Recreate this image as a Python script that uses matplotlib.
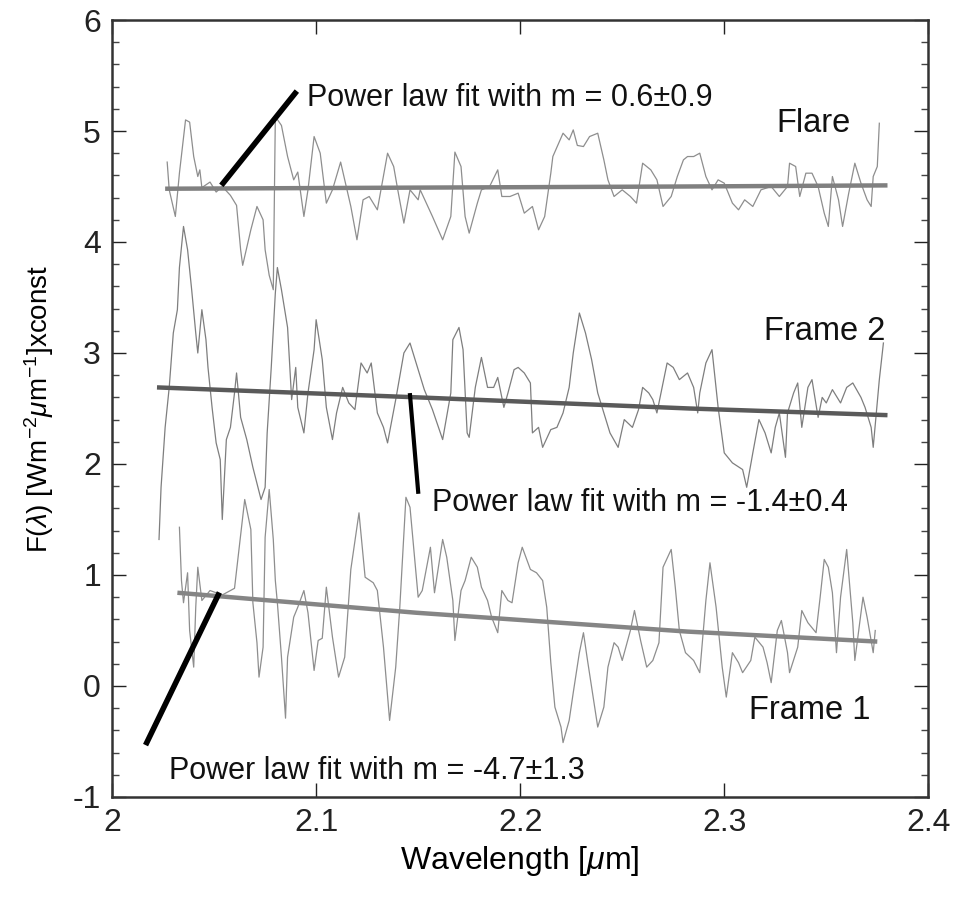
import numpy as np
import matplotlib
matplotlib.use("Agg")
import matplotlib.pyplot as plt
from matplotlib.ticker import MultipleLocator

plt.rcParams['font.family'] = ['Liberation Sans', 'DejaVu Sans']
plt.rcParams['mathtext.fontset'] = 'custom'
plt.rcParams['mathtext.rm'] = 'Liberation Sans'
plt.rcParams['mathtext.it'] = 'Liberation Sans:italic'
plt.rcParams['axes.unicode_minus'] = False

# spectra (wavelength in um, flux offset per frame)
flare_wl = [2.027, 2.028, 2.031, 2.033, 2.036, 2.038, 2.040, 2.042, 2.043, 2.044,
            2.048, 2.051, 2.054, 2.058, 2.061, 2.063, 2.064, 2.068, 2.071, 2.074,
            2.075, 2.077, 2.079, 2.080, 2.083, 2.086, 2.089, 2.091, 2.094, 2.096,
            2.099, 2.102, 2.105, 2.108, 2.112, 2.114, 2.117, 2.120, 2.123, 2.126,
            2.130, 2.135, 2.138, 2.140, 2.143, 2.146, 2.150, 2.151, 2.154, 2.157,
            2.162, 2.166, 2.168, 2.171, 2.173, 2.175, 2.179, 2.181, 2.185, 2.189,
            2.191, 2.195, 2.199, 2.202, 2.206, 2.209, 2.212, 2.215, 2.216, 2.221,
            2.224, 2.226, 2.228, 2.231, 2.234, 2.238, 2.241, 2.243, 2.246, 2.250,
            2.254, 2.257, 2.260, 2.264, 2.267, 2.270, 2.274, 2.277, 2.280, 2.282,
            2.285, 2.288, 2.291, 2.294, 2.297, 2.300, 2.304, 2.307, 2.310, 2.314,
            2.318, 2.323, 2.327, 2.331, 2.332, 2.335, 2.337, 2.340, 2.343, 2.346,
            2.349, 2.351, 2.353, 2.356, 2.358, 2.361, 2.364, 2.367, 2.370, 2.372,
            2.373, 2.375, 2.376]
flare_flux = [4.72, 4.47, 4.23, 4.62, 5.10, 5.08, 4.77, 4.59, 4.65, 4.49,
              4.54, 4.45, 4.50, 4.42, 4.33, 3.93, 3.79, 4.11, 4.32, 4.20,
              3.93, 3.70, 3.57, 5.13, 5.05, 4.77, 4.56, 4.63, 4.23, 4.47,
              4.95, 4.80, 4.35, 4.47, 4.72, 4.56, 4.32, 4.02, 4.38, 4.41,
              4.29, 4.80, 4.68, 4.47, 4.17, 4.47, 4.38, 4.47, 4.35, 4.23,
              4.02, 4.23, 4.81, 4.68, 4.23, 4.08, 4.35, 4.47, 4.50, 4.65,
              4.41, 4.41, 4.44, 4.26, 4.32, 4.11, 4.23, 4.62, 4.77, 4.98,
              4.92, 5.01, 4.87, 4.86, 4.95, 4.98, 4.74, 4.56, 4.41, 4.47,
              4.41, 4.35, 4.71, 4.65, 4.56, 4.32, 4.41, 4.59, 4.74, 4.77,
              4.77, 4.80, 4.59, 4.47, 4.56, 4.53, 4.35, 4.29, 4.38, 4.32,
              4.47, 4.50, 4.41, 4.50, 4.71, 4.68, 4.41, 4.62, 4.62, 4.50,
              4.26, 4.14, 4.59, 4.38, 4.14, 4.44, 4.71, 4.53, 4.38, 4.32,
              4.59, 4.68, 5.07]

frame2_wl = [2.023, 2.024, 2.026, 2.028, 2.030, 2.032, 2.033, 2.035, 2.037, 2.039,
             2.041, 2.042, 2.044, 2.046, 2.047, 2.049, 2.051, 2.053, 2.054, 2.056,
             2.058, 2.060, 2.061, 2.063, 2.066, 2.069, 2.073, 2.075, 2.076, 2.078,
             2.080, 2.081, 2.083, 2.086, 2.088, 2.090, 2.091, 2.094, 2.096, 2.099,
             2.100, 2.103, 2.105, 2.108, 2.110, 2.113, 2.116, 2.119, 2.122, 2.125,
             2.127, 2.130, 2.133, 2.135, 2.139, 2.143, 2.146, 2.150, 2.153, 2.157,
             2.162, 2.166, 2.167, 2.170, 2.172, 2.174, 2.175, 2.178, 2.181, 2.184,
             2.187, 2.189, 2.192, 2.194, 2.197, 2.199, 2.202, 2.205, 2.206, 2.209,
             2.211, 2.215, 2.218, 2.221, 2.224, 2.226, 2.229, 2.232, 2.235, 2.238,
             2.241, 2.244, 2.248, 2.251, 2.255, 2.258, 2.260, 2.263, 2.265, 2.267,
             2.269, 2.272, 2.275, 2.278, 2.282, 2.285, 2.287, 2.288, 2.291, 2.294,
             2.297, 2.300, 2.304, 2.309, 2.311, 2.314, 2.317, 2.320, 2.323, 2.325,
             2.327, 2.330, 2.331, 2.334, 2.336, 2.338, 2.341, 2.343, 2.346, 2.348,
             2.350, 2.353, 2.357, 2.360, 2.363, 2.367, 2.369, 2.372, 2.373, 2.375,
             2.376, 2.378]
frame2_flux = [1.32, 1.79, 2.33, 2.69, 3.18, 3.39, 3.77, 4.14, 3.93, 3.57,
               3.18, 3.00, 3.39, 3.12, 2.87, 2.51, 2.19, 2.04, 1.50, 2.22,
               2.33, 2.64, 2.82, 2.42, 2.22, 1.97, 1.68, 1.79, 2.28, 2.87,
               3.54, 3.77, 3.57, 3.23, 2.58, 2.87, 2.51, 2.28, 2.64, 3.03,
               3.30, 2.94, 2.51, 2.22, 2.46, 2.69, 2.55, 2.49, 2.91, 2.82,
               2.91, 2.46, 2.33, 2.19, 2.58, 3.00, 3.09, 2.85, 2.67, 2.49,
               2.22, 2.64, 3.12, 3.23, 3.03, 2.28, 2.24, 2.69, 2.96, 2.69,
               2.69, 2.78, 2.51, 2.64, 2.85, 2.87, 2.82, 2.73, 2.28, 2.33,
               2.15, 2.31, 2.33, 2.46, 2.69, 3.00, 3.36, 3.18, 2.94, 2.64,
               2.46, 2.28, 2.15, 2.40, 2.33, 2.49, 2.69, 2.64, 2.58, 2.46,
               2.64, 2.91, 2.87, 2.76, 2.82, 2.69, 2.46, 2.64, 2.91, 3.03,
               2.51, 2.10, 2.01, 1.95, 1.79, 2.10, 2.40, 2.28, 2.10, 2.33,
               2.46, 2.06, 2.46, 2.64, 2.73, 2.33, 2.69, 2.76, 2.42, 2.60,
               2.55, 2.67, 2.55, 2.69, 2.73, 2.60, 2.51, 2.33, 2.15, 2.55,
               2.76, 3.09]

frame1_wl = [2.033, 2.034, 2.035, 2.037, 2.038, 2.040, 2.041, 2.042, 2.044, 2.048,
             2.054, 2.060, 2.065, 2.068, 2.069, 2.071, 2.072, 2.074, 2.075, 2.077,
             2.079, 2.080, 2.081, 2.083, 2.085, 2.086, 2.089, 2.091, 2.094, 2.096,
             2.099, 2.101, 2.103, 2.105, 2.108, 2.111, 2.114, 2.117, 2.121, 2.124,
             2.128, 2.130, 2.133, 2.136, 2.139, 2.141, 2.144, 2.146, 2.150, 2.152,
             2.156, 2.158, 2.162, 2.164, 2.167, 2.168, 2.171, 2.173, 2.176, 2.179,
             2.181, 2.184, 2.186, 2.189, 2.191, 2.194, 2.196, 2.199, 2.201, 2.205,
             2.208, 2.211, 2.213, 2.215, 2.217, 2.220, 2.221, 2.224, 2.226, 2.229,
             2.231, 2.233, 2.236, 2.238, 2.241, 2.243, 2.246, 2.248, 2.250, 2.254,
             2.256, 2.259, 2.262, 2.265, 2.268, 2.270, 2.274, 2.276, 2.278, 2.281,
             2.285, 2.288, 2.291, 2.293, 2.296, 2.299, 2.301, 2.304, 2.307, 2.309,
             2.313, 2.315, 2.319, 2.321, 2.323, 2.326, 2.328, 2.331, 2.332, 2.336,
             2.338, 2.341, 2.345, 2.347, 2.349, 2.351, 2.353, 2.355, 2.357, 2.360,
             2.363, 2.364, 2.368, 2.370, 2.373, 2.374]
frame1_flux = [1.43, 0.95, 0.75, 1.02, 0.50, 0.17, 0.71, 1.07, 0.77, 0.86,
               0.82, 0.88, 1.68, 1.41, 0.75, 0.39, 0.08, 0.35, 1.34, 1.77,
               1.32, 0.95, 0.75, 0.26, -0.29, 0.26, 0.62, 0.71, 0.86, 0.66,
               0.14, 0.41, 0.43, 0.89, 0.44, 0.08, 0.26, 1.05, 1.56, 0.98,
               0.93, 0.86, 0.35, -0.31, 0.17, 0.71, 1.70, 1.61, 0.80, 0.86,
               1.25, 0.84, 1.32, 1.16, 0.77, 0.41, 0.86, 0.95, 1.16, 1.07,
               0.89, 0.77, 0.62, 0.48, 0.86, 0.77, 0.75, 1.11, 1.25, 1.05,
               1.02, 0.95, 0.71, 0.21, -0.19, -0.37, -0.51, -0.31, -0.06, 0.30,
               0.48, 0.23, -0.13, -0.37, -0.19, 0.17, 0.39, 0.35, 0.23, 0.50,
               0.68, 0.41, 0.17, 0.23, 0.39, 1.07, 1.23, 0.89, 0.50, 0.30,
               0.23, 0.12, 0.77, 1.11, 0.71, 0.17, -0.10, 0.30, 0.21, 0.12,
               0.23, 0.44, 0.35, 0.21, 0.03, 0.50, 0.59, 0.30, 0.12, 0.35,
               0.68, 0.57, 0.48, 0.80, 1.14, 1.07, 0.84, 0.30, 0.80, 1.23,
               0.57, 0.23, 0.80, 0.62, 0.30, 0.50]

# power law fits, read at a few wavelengths
flare_fit_wl = [2.026, 2.15, 2.28, 2.380]
flare_fit = [4.48, 4.49, 4.50, 4.51]
frame2_fit_wl = [2.022, 2.15, 2.283, 2.380]
frame2_fit = [2.69, 2.60, 2.50, 2.44]
frame1_fit_wl = [2.032, 2.149, 2.282, 2.375]
frame1_fit = [0.84, 0.66, 0.49, 0.40]

fit_labels = ['Power law fit with m = 0.6\u00b10.9',
              'Power law fit with m = -1.4\u00b10.4',
              'Power law fit with m = -4.7\u00b11.3']
series_names = ['Flare', 'Frame 2', 'Frame 1']

fig = plt.figure(figsize=(9.58, 8.97), dpi=100)
ax = fig.add_axes([0.117, 0.1115, 0.852, 0.8662])

spec_col = '#8e8e8e'
ax.plot(flare_wl, flare_flux, color=spec_col, lw=0.9)
ax.plot(frame2_wl, frame2_flux, color='#7e7e7e', lw=0.9)
ax.plot(frame1_wl, frame1_flux, color=spec_col, lw=0.9)

ax.plot(flare_fit_wl, flare_fit, color='#808080', lw=3.2, solid_capstyle='butt')
ax.plot(frame2_fit_wl, frame2_fit, color='#5a5a5a', lw=3.2, solid_capstyle='butt')
ax.plot(frame1_fit_wl, frame1_fit, color='#858585', lw=3.2, solid_capstyle='butt')

# pointer lines from the fits to their labels
ax.plot([2.0544, 2.0897], [4.53, 5.34], color='black', lw=4)
ax.plot([2.146, 2.150], [2.62, 1.75], color='black', lw=3)
ax.plot([2.052, 2.017], [0.82, -0.51], color='black', lw=4)

ann = dict(fontsize=22, va='center', ha='left', color='#111111')
ax.text(2.0956, 5.30, fit_labels[0], **ann)
ax.text(2.157, 1.65, fit_labels[1], **ann)
ax.text(2.028, -0.77, fit_labels[2], **ann)

lab = dict(fontsize=23.5, va='center', ha='center', color='#111111')
ax.text(2.3436, 5.07, series_names[0], **lab)
ax.text(2.349, 3.19, series_names[1], **lab)
ax.text(2.3417, -0.22, series_names[2], **lab)

ax.set_xlim(2.0, 2.4)
ax.set_ylim(-1, 6)
ax.yaxis.set_major_locator(MultipleLocator(1))
ax.yaxis.set_minor_locator(MultipleLocator(0.2))
ax.set_xticks([2.0, 2.1, 2.2, 2.3, 2.4])
ax.set_xticklabels(['2', '2.1', '2.2', '2.3', '2.4'])
ax.tick_params(axis='both', which='major', direction='in', length=10, width=1,
               labelsize=23, top=True, right=True, pad=8, colors='#222222')
ax.tick_params(axis='y', which='minor', direction='in', length=5, width=1,
               right=True, colors='#444444')
for s in ax.spines.values():
    s.set_linewidth(1.8)
    s.set_color('#333333')

ax.set_xlabel('Wavelength [$\\mu$m]', fontsize=23, labelpad=4)
ax.set_ylabel('F($\\lambda$) [Wm$^{-2}\\mu$m$^{-1}$]xconst', fontsize=20, labelpad=12)

fig.savefig('out.png', dpi=100)
